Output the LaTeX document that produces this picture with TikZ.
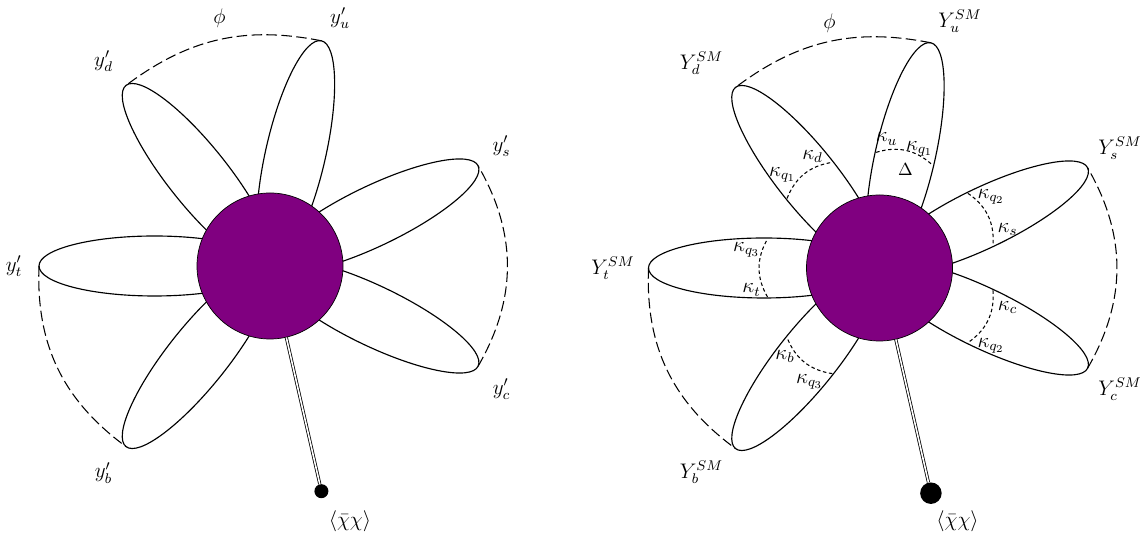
\documentclass[tikz,border=0pt]{standalone}
\usepackage{amsmath}
\usepackage{amssymb}
\usepackage{xcolor}
\usepackage{tikz}
\usetikzlibrary{calc}
\definecolor{blobviolet}{RGB}{128,0,128}

\begin{document}
\begin{tikzpicture}[
    petal/.style={line width=0.65pt},
    blob/.style={circle, draw, line width=0.4pt, fill=blobviolet, minimum size=2.92cm, inner sep=0pt},
    vev/.style={circle, fill=black, inner sep=0pt},
    stem/.style={double, line width=0.45pt, double distance=0.9pt},
    flav/.style={line width=0.6pt, dash pattern=on 6pt off 2.5pt},
    kap/.style={line width=0.6pt, dash pattern=on 2pt off 1.5pt},
    lab/.style={font=\large, inner sep=0pt}]
		\useasboundingbox (0,0) rectangle (22.86,10.72);
		% Left flower: petals and tips
		\coordinate (cL) at (5.4,5.4);
		\draw[petal, shift={(cL)}, rotate=180] (2.31,0) ellipse (2.31 and 0.6) (4.62,0) coordinate (tL);
		\draw[petal, shift={(cL)}, rotate=231.43] (2.31,0) ellipse (2.31 and 0.6) (4.62,0) coordinate (bL);
		\draw[petal, shift={(cL)}, rotate=334.29] (2.31,0) ellipse (2.31 and 0.6) (4.62,0) coordinate (cpL);
		\draw[petal, shift={(cL)}, rotate=25.71] (2.31,0) ellipse (2.31 and 0.6) (4.62,0) coordinate (sL);
		\draw[petal, shift={(cL)}, rotate=77.14] (2.31,0) ellipse (2.31 and 0.6) (4.62,0) coordinate (uL);
		\draw[petal, shift={(cL)}, rotate=128.57] (2.31,0) ellipse (2.31 and 0.6) (4.62,0) coordinate (dL);
		\draw[flav] (uL) to[bend right=24] (dL);
		\draw[flav] (tL) to[bend right=28] (bL);
		\draw[flav] (cpL) to[bend right=30] (sL);
		\node[blob] (hubL) at (cL){};
		\node[vev, minimum size=0.28cm] (xL) at ([shift={(-77.14:4.62)}]cL){};
		\draw[stem] (hubL) -- (xL);
		% Left flower: labels
		\node[lab] (phiL) at ([shift={(-1.01,4.95)}]cL){$\phi$};
		\node[lab] (yuL) at ([shift={(1.40,4.95)}]cL){$y'_u$};
		\node[lab] (ydL) at ([shift={(-3.33,4.09)}]cL){$y'_d$};
		\node[lab] (ysL) at ([shift={(4.63,2.39)}]cL){$y'_s$};
		\node[lab] (ytL) at ([shift={(-5.12,0)}]cL){$y'_t$};
		\node[lab] (ybL) at ([shift={(-3.33,-4.14)}]cL){$y'_b$};
		\node[lab] (ycL) at ([shift={(4.63,-2.47)}]cL){$y'_c$};
		\node[lab] (vevL) at ([shift={(1.60,-5.10)}]cL){$\langle\bar\chi\chi\rangle$};
		% Right flower: petals, tips and arc ends
		\coordinate (cR) at (17.59,5.36);
		\draw[petal, shift={(cR)}, rotate=180] (2.31,0) ellipse (2.31 and 0.6) (4.62,0) coordinate (tR) (2.24,0.58) coordinate (tRa) (2.24,-0.58) coordinate (tRb);
		\draw[petal, shift={(cR)}, rotate=231.43] (2.31,0) ellipse (2.31 and 0.6) (4.62,0) coordinate (bR) (2.24,0.58) coordinate (bRa) (2.24,-0.58) coordinate (bRb);
		\draw[petal, shift={(cR)}, rotate=334.29] (2.31,0) ellipse (2.31 and 0.6) (4.62,0) coordinate (cpR) (2.24,0.58) coordinate (cRa) (2.24,-0.58) coordinate (cRb);
		\draw[petal, shift={(cR)}, rotate=25.71] (2.31,0) ellipse (2.31 and 0.6) (4.62,0) coordinate (sR) (2.24,0.58) coordinate (sRa) (2.24,-0.58) coordinate (sRb);
		\draw[petal, shift={(cR)}, rotate=77.14] (2.31,0) ellipse (2.31 and 0.6) (4.62,0) coordinate (uR) (2.24,0.58) coordinate (uRa) (2.24,-0.58) coordinate (uRb);
		\draw[petal, shift={(cR)}, rotate=128.57] (2.31,0) ellipse (2.31 and 0.6) (4.62,0) coordinate (dR) (2.24,0.58) coordinate (dRa) (2.24,-0.58) coordinate (dRb);
		\draw[flav] (uR) to[bend right=24] (dR);
		\draw[flav] (tR) to[bend right=28] (bR);
		\draw[flav] (cpR) to[bend right=30] (sR);
		\draw[kap] (tRa) to[bend left=30] (tRb);
		\draw[kap] (bRa) to[bend left=30] (bRb);
		\draw[kap] (cRa) to[bend left=30] (cRb);
		\draw[kap] (sRa) to[bend left=30] (sRb);
		\draw[kap] (uRa) to[bend left=30] (uRb);
		\draw[kap] (dRa) to[bend left=30] (dRb);
		\node[blob] (hubR) at (cR){};
		\node[vev, minimum size=0.43cm] (xR) at ([shift={(-77.14:4.62)}]cR){};
		\draw[stem] (hubR) -- (xR);
		% Right flower: labels
		\node[lab] (phiR) at ([shift={(-1.00,4.89)}]cR){$\phi$};
		\node[lab] (YuR) at ([shift={(1.61,4.93)}]cR){$Y_u^{SM}$};
		\node[lab] (YdR) at ([shift={(-3.56,4.09)}]cR){$Y_d^{SM}$};
		\node[lab] (YsR) at ([shift={(4.81,2.39)}]cR){$Y_s^{SM}$};
		\node[lab] (YtR) at ([shift={(-5.33,0)}]cR){$Y_t^{SM}$};
		\node[lab] (YbR) at ([shift={(-3.56,-4.09)}]cR){$Y_b^{SM}$};
		\node[lab] (YcR) at ([shift={(4.81,-2.43)}]cR){$Y_c^{SM}$};
		\node[lab] (vevR) at ([shift={(1.56,-5.06)}]cR){$\langle\bar\chi\chi\rangle$};
		\node[lab] (kuR) at ([shift={(0.14,2.58)}]cR){$\kappa_u$};
		\node[lab] (kqoneuR) at ([shift={(0.80,2.38)}]cR){$\kappa_{q_1}$};
		\node[inner sep=0pt] (deltaR) at ([shift={(0.52,1.96)}]cR){$\Delta$};
		\node[lab] (kdR) at ([shift={(-1.34,2.23)}]cR){$\kappa_d$};
		\node[lab] (kqonedR) at ([shift={(-1.94,1.86)}]cR){$\kappa_{q_1}$};
		\node[lab] (kqthreetR) at ([shift={(-2.66,0.36)}]cR){$\kappa_{q_3}$};
		\node[lab] (ktR) at ([shift={(-2.56,-0.44)}]cR){$\kappa_t$};
		\node[lab] (kqtwosR) at ([shift={(2.23,1.43)}]cR){$\kappa_{q_2}$};
		\node[lab] (ksR) at ([shift={(2.56,0.77)}]cR){$\kappa_s$};
		\node[lab] (kcR) at ([shift={(2.56,-0.79)}]cR){$\kappa_c$};
		\node[lab] (kqtwocR) at ([shift={(2.23,-1.56)}]cR){$\kappa_{q_2}$};
		\node[lab] (kbR) at ([shift={(-1.89,-1.77)}]cR){$\kappa_b$};
		\node[lab] (kqthreebR) at ([shift={(-1.40,-2.28)}]cR){$\kappa_{q_3}$};
	\end{tikzpicture}
\end{document}
